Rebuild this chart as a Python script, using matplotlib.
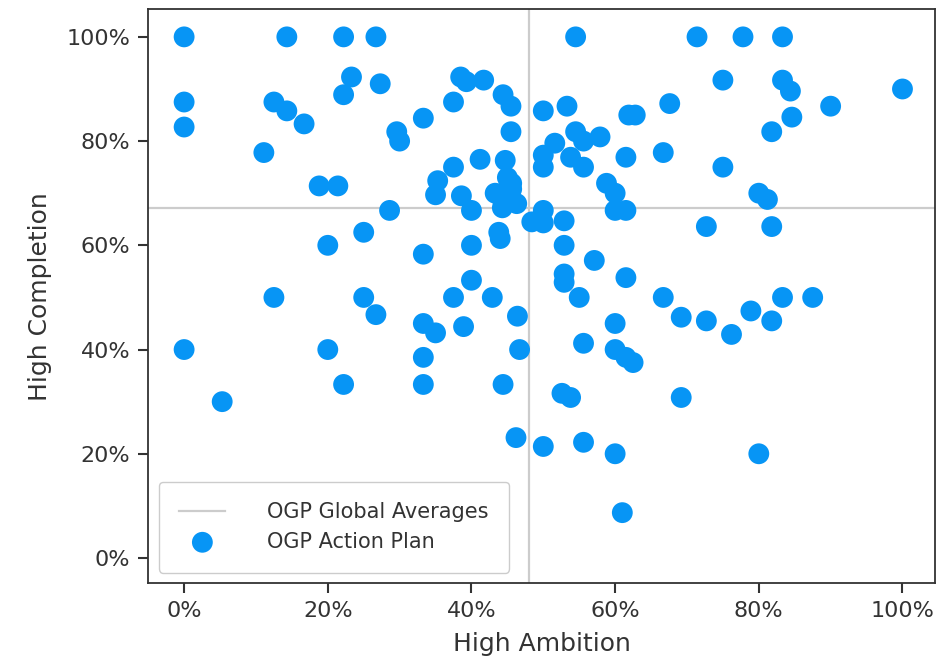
import numpy as np
import matplotlib
matplotlib.use('Agg')
import matplotlib.pyplot as plt
from matplotlib.ticker import PercentFormatter

# share of commitments per action plan (x = high ambition, y = high completion), in %
ambition = [
    0, 14.3, 22.2, 26.7, 54.5, 71.4, 77.8, 83.3,
    0, 0, 0,
    23.3, 22.2, 27.3, 12.5, 14.3, 16.7, 11.1, 18.8, 21.4,
    29.6, 30, 33.3, 37.5, 38.5, 39.3, 41.7, 44.4, 45.5, 45.5,
    37.5, 41.2, 44.7, 35.3, 35, 38.6, 40,
    45, 45.6, 43.3, 44.5, 45.6, 46.3, 44.3, 44.4,
    28.6, 25, 20, 33.3, 40, 43.8, 44.0,
    40, 12.5, 25, 37.5, 42.9,
    26.7, 33.3, 35, 38.9, 46.4, 20, 33.3, 46.7, 5.3, 22.2, 33.3, 44.4, 46.2,
    50, 53.3, 54.5, 55.6, 57.9, 51.6, 50, 50, 53.8, 55.6, 61.5, 66.7, 75,
    58.8, 60, 60, 61.5, 80, 81.2,
    50, 48.4, 50, 52.9, 72.7, 81.8, 52.9, 57.1, 52.9, 52.9, 61.5,
    55, 66.7, 83.3, 87.5,
    75, 83.3, 84.4, 100, 90, 84.6, 81.8, 67.6, 61.9, 62.8,
    69.2, 72.7, 76.2, 78.9, 81.8, 60, 55.6, 60, 61.5, 62.5,
    52.6, 53.8, 69.2, 50, 55.6, 60, 80, 61,
]
completion = [
    100, 100, 100, 100, 100, 100, 100, 100,
    87.5, 82.7, 40,
    92.3, 88.9, 91, 87.5, 85.8, 83.3, 77.8, 71.4, 71.4,
    81.8, 80, 84.4, 87.5, 92.3, 91.4, 91.7, 88.9, 86.7, 81.8,
    75, 76.5, 76.3, 72.4, 69.7, 69.5, 66.7,
    73, 71.9, 70, 70.1, 70.8, 68, 67.2, 68.3,
    66.7, 62.5, 60, 58.3, 60, 62.5, 61.3,
    53.3, 50, 50, 50, 50,
    46.7, 45, 43.2, 44.4, 46.4, 40, 38.5, 40, 30, 33.3, 33.3, 33.3, 23.1,
    85.8, 86.7, 81.8, 80, 80.8, 79.6, 77.3, 75, 76.9, 75, 76.9, 77.8, 75,
    71.9, 70, 66.7, 66.7, 70, 68.8,
    66.7, 64.5, 64.3, 64.7, 63.6, 63.6, 60, 57.1, 54.5, 52.9, 53.8,
    50, 50, 50, 50,
    91.7, 91.7, 89.6, 90, 86.7, 84.6, 81.8, 87.2, 85, 85,
    46.2, 45.5, 42.9, 47.4, 45.5, 45, 41.2, 40, 38.5, 37.5,
    31.6, 30.8, 30.8, 21.4, 22.2, 20, 20, 8.7,
]
avg_ambition = 48.0
avg_completion = 67.1

BLUE = '#0795f5'
GRAY = '#cccccc'
DARK = '#333333'

plt.rcParams['font.family'] = 'DejaVu Sans'
plt.rcParams['text.color'] = DARK
plt.rcParams['axes.labelcolor'] = DARK

fig = plt.figure(figsize=(9.5, 6.61), dpi=100)
ax = fig.add_axes([0.156, 0.118, 0.828, 0.868])

x = np.array(ambition) / 100
y = np.array(completion) / 100

ax.axvline(avg_ambition / 100, color=GRAY, lw=1.6, zorder=1)
ax.axhline(avg_completion / 100, color=GRAY, lw=1.6, zorder=1,
           label='OGP Global Averages')
ax.scatter(x, y, s=225, color=BLUE, edgecolor='none',
           zorder=3, label='OGP Action Plan')

ax.set_xlim(-0.05, 1.045)
ax.set_ylim(-0.048, 1.053)
ax.set_xticks(np.arange(0, 1.01, 0.2))
ax.set_yticks(np.arange(0, 1.01, 0.2))
ax.xaxis.set_major_formatter(PercentFormatter(1.0, decimals=0))
ax.yaxis.set_major_formatter(PercentFormatter(1.0, decimals=0))

ax.tick_params(axis='both', labelsize=16, length=7, width=1.5,
               color=DARK, labelcolor=DARK, pad=6)
for sp in ax.spines.values():
    sp.set_color(DARK)
    sp.set_linewidth(1.3)

ax.set_xlabel('High Ambition', fontsize=18, labelpad=8)
ax.set_ylabel('High Completion', fontsize=18, labelpad=10)

ax.legend(loc='lower left', fontsize=15, borderpad=1.0, handlelength=2.2,
          handletextpad=2.0, labelspacing=0.45, fancybox=True,
          edgecolor='#cccccc', framealpha=1)

fig.savefig('out.png', dpi=100)
